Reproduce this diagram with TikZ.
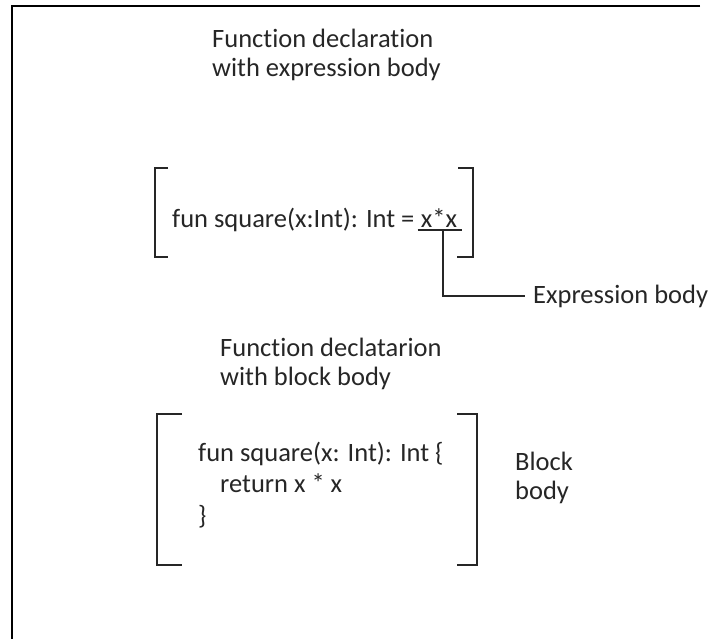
\documentclass[tikz,border=0pt]{standalone}
\usepackage{fontspec}
\setmainfont{Carlito}[Ligatures=NoCommon]
\usepackage{xcolor}
\usepackage{tikz}

\begin{document}
\begin{tikzpicture}[
    x=1pt, y=-1pt,
    label/.style={anchor=base west, inner sep=0pt, align=left, text=black!85, font=\fontsize{26.5}{31.5}\selectfont},
    heading/.style={label, font=\fontsize{26.5}{29}\selectfont},
    bracket/.style={draw=black!85, line width=2pt},
    link/.style={draw=black!85, line width=2pt}
]
    \useasboundingbox (0,0) rectangle (709,639);
    \draw[line width=2pt] (700,6) -- (12,6) -- (12,639);

    % expression body (base = last line)
    \node[heading] (title1) at (212,77) {Function declaration\\with expression body};
    \node[label] (sig) at (172,227) {fun square(x:Int): Int =};
    \node[label, xshift=6pt] (expr) at (sig.base east) {x*x};
    \draw[bracket] (168,168) -- (155,168) -- (155,257) -- (168,257);
    \draw[bracket] (458,168) -- (473,168) -- (473,257) -- (457,257);

    \node[label, inner xsep=8pt] (exprbody) at (525,303) {Expression body};
    \coordinate (tap) at ([xshift=4pt, yshift=-3pt]expr.south);
    \draw[link] ([xshift=-3pt]expr.south west |- tap) -- ([xshift=5pt]expr.south east |- tap);
    \draw[link] (tap) |- (exprbody.west);

    % block body
    \node[heading] (title2) at (220,385) {Function declatarion\\with block body};
    \node[label] (code) at (198,524) {fun square(x: Int): Int \{\\\hspace*{22pt}return x * x\\\}};
    \draw[bracket] (182,414) -- (157,414) -- (157,565) -- (182,565);
    \draw[bracket] (457,414) -- (477,414) -- (477,565) -- (457,565);
    \node[heading] (blockbody) at (515,499) {Block\\body};
\end{tikzpicture}
\end{document}
